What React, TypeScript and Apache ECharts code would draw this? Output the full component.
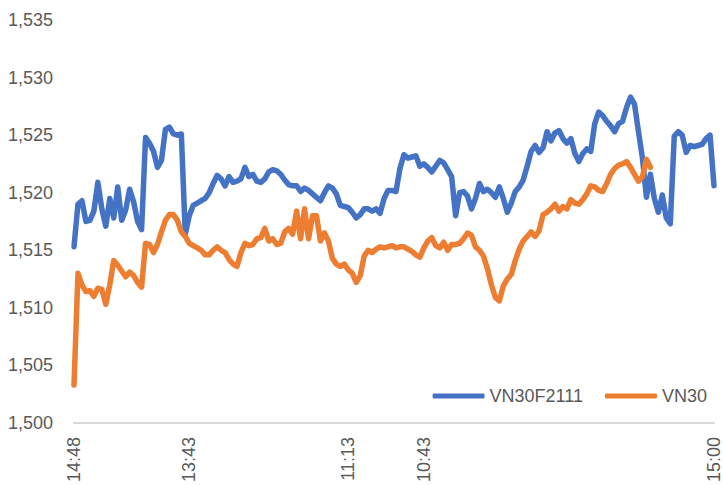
import React, { useEffect, useRef } from "react";
import * as echarts from "echarts";

const seriesNames = ["VN30F2111", "VN30"];

const tickLabels = ["14:48", "13:43", "11:13", "10:43", "15:00"];
const tickIndex = [0, 29, 69, 88, 161];

const vn30f2111 = [
  1515.3, 1519.0, 1519.3, 1517.5, 1517.6, 1518.4, 1520.9, 1518.6, 1517.1, 1519.5,
  1517.8, 1520.5, 1517.6, 1518.5, 1520.3, 1519.2, 1517.5, 1516.8, 1524.8, 1524.3,
  1523.6, 1522.2, 1522.8, 1525.5, 1525.7, 1525.1, 1525.0, 1525.1, 1516.4, 1518.0,
  1518.9, 1519.1, 1519.3, 1519.5, 1520.0, 1520.8, 1521.5, 1521.2, 1520.6, 1521.4,
  1520.9, 1521.0, 1521.2, 1522.2, 1521.4, 1521.6, 1521.0, 1520.9, 1521.2, 1521.8,
  1522.0, 1521.9, 1521.6, 1521.1, 1520.7, 1520.6, 1520.6, 1520.1, 1520.4, 1520.2,
  1519.9, 1519.6, 1519.3, 1520.0, 1520.6, 1520.4, 1519.9, 1518.9, 1518.8, 1518.7,
  1518.3, 1517.8, 1518.1, 1518.6, 1518.6, 1518.4, 1518.6, 1518.2, 1519.5, 1520.2,
  1520.2, 1520.1, 1522.1, 1523.3, 1523.0, 1523.1, 1523.2, 1522.3, 1522.5, 1522.2,
  1521.8, 1522.3, 1522.8, 1522.6, 1522.0, 1521.4, 1518.0, 1520.0, 1520.1, 1519.7,
  1518.6, 1519.5, 1520.8, 1520.1, 1520.3, 1520.0, 1519.6, 1520.5, 1519.5, 1518.3,
  1519.1, 1520.1, 1520.5, 1521.1, 1522.3, 1523.6, 1524.1, 1523.5, 1523.9, 1525.3,
  1524.5, 1525.2, 1525.4, 1524.7, 1524.3, 1524.7, 1523.4, 1522.7, 1523.4, 1523.8,
  1523.6, 1526.0, 1527.0, 1526.7, 1526.2, 1525.8, 1525.3, 1526.0, 1526.2, 1527.4,
  1528.3, 1527.7, 1525.3, 1523.0, 1519.6, 1521.6, 1519.5, 1518.3, 1519.8, 1517.8,
  1517.3, 1524.9, 1525.3, 1525.0, 1523.5, 1524.1, 1524.0, 1524.1, 1524.2, 1524.7,
  1525.0, 1520.6,
];

const vn30 = [
  1503.3, 1513.0, 1512.0, 1511.4, 1511.5, 1511.0, 1511.7, 1511.6, 1510.3, 1512.0,
  1514.1, 1513.7, 1513.2, 1512.7, 1513.1, 1512.8, 1512.2, 1511.8, 1515.6, 1515.5,
  1514.8, 1515.5, 1516.6, 1517.6, 1518.1, 1518.1, 1517.6, 1516.6, 1516.2, 1515.6,
  1515.4, 1515.2, 1515.0, 1514.6, 1514.6, 1515.0, 1515.3, 1515.0, 1514.8, 1514.2,
  1513.8, 1513.6, 1514.8, 1515.6, 1515.4, 1515.5, 1516.0, 1516.1, 1516.9, 1515.8,
  1516.0, 1515.5, 1515.6, 1516.6, 1516.9, 1516.4, 1518.4, 1516.0, 1518.6, 1516.0,
  1518.0, 1518.0, 1515.8, 1516.5, 1515.8, 1514.3, 1513.8, 1513.6, 1513.8, 1513.3,
  1513.0, 1512.2, 1512.8, 1514.5, 1515.0, 1514.8, 1515.1, 1515.3, 1515.2, 1515.3,
  1515.4, 1515.2, 1515.3, 1515.3, 1515.1, 1514.9, 1514.6, 1514.4, 1515.2, 1515.8,
  1516.1, 1515.4, 1515.2, 1515.7, 1515.0, 1515.5, 1515.5, 1515.6, 1516.0, 1516.5,
  1516.3, 1515.3, 1515.0, 1514.5, 1513.4, 1512.0, 1510.9, 1510.6, 1511.9, 1512.5,
  1512.9, 1514.1, 1515.1, 1515.8, 1516.2, 1516.6, 1516.2, 1516.7, 1518.1, 1518.3,
  1518.6, 1519.0, 1518.4, 1518.8, 1518.6, 1519.4, 1519.1, 1519.0, 1519.4, 1519.9,
  1520.6, 1520.5, 1520.2, 1520.1, 1520.8, 1521.6, 1522.1, 1522.4, 1522.5, 1522.7,
  1522.2, 1521.6, 1521.0, 1521.4, 1522.9, 1522.2,
];

const FONT = "'Liberation Sans', Arial, sans-serif";

export default function App() {
  const ref = useRef<HTMLDivElement>(null);

  useEffect(() => {
    if (!ref.current) return;
    const chart = echarts.init(ref.current, undefined, { renderer: "svg" });
    const categories = vn30f2111.map((_, i) => {
      const k = tickIndex.indexOf(i);
      return k >= 0 ? tickLabels[k] : String(i);
    });
    chart.setOption({
      animation: false,
      backgroundColor: "#ffffff",
      grid: { left: 74, right: 5, top: 20, bottom: 59, containLabel: false },
      legend: {
        data: seriesNames,
        right: 11,
        top: 382,
        icon: "roundRect",
        itemWidth: 52,
        itemHeight: 5,
        itemGap: 22,
        textStyle: { fontSize: 18, color: "#595959", fontFamily: FONT },
      },
      xAxis: {
        type: "category",
        data: categories,
        boundaryGap: false,
        axisLine: { show: true, lineStyle: { color: "#D9D9D9", width: 2 } },
        axisTick: { show: false },
        splitLine: { show: false },
        axisLabel: {
          interval: (idx: number) => tickIndex.includes(idx),
          rotate: 90,
          margin: 14,
          fontSize: 18,
          color: "#595959",
          fontFamily: FONT,
        },
      },
      yAxis: {
        type: "value",
        min: 1500,
        max: 1535,
        interval: 5,
        axisLine: { show: false },
        axisTick: { show: false },
        splitLine: { show: false },
        axisLabel: {
          margin: 21,
          fontSize: 18,
          color: "#595959",
          fontFamily: FONT,
          formatter: (v: number) => v.toLocaleString("en-US"),
        },
      },
      series: [
        {
          name: seriesNames[0],
          type: "line",
          data: vn30f2111,
          symbol: "none",
          showSymbol: false,
          itemStyle: { color: "#4472C4" },
          lineStyle: { color: "#4472C4", width: 5.5, cap: "round", join: "round" },
        },
        {
          name: seriesNames[1],
          type: "line",
          data: vn30,
          symbol: "none",
          showSymbol: false,
          itemStyle: { color: "#ED7D31" },
          lineStyle: { color: "#ED7D31", width: 5.5, cap: "round", join: "round" },
        },
      ],
    });
    return () => chart.dispose();
  }, []);

  return (
    <div
      ref={ref}
      style={{ position: "fixed", left: 0, top: 0, width: 723, height: 485, background: "#fff" }}
    />
  );
}
